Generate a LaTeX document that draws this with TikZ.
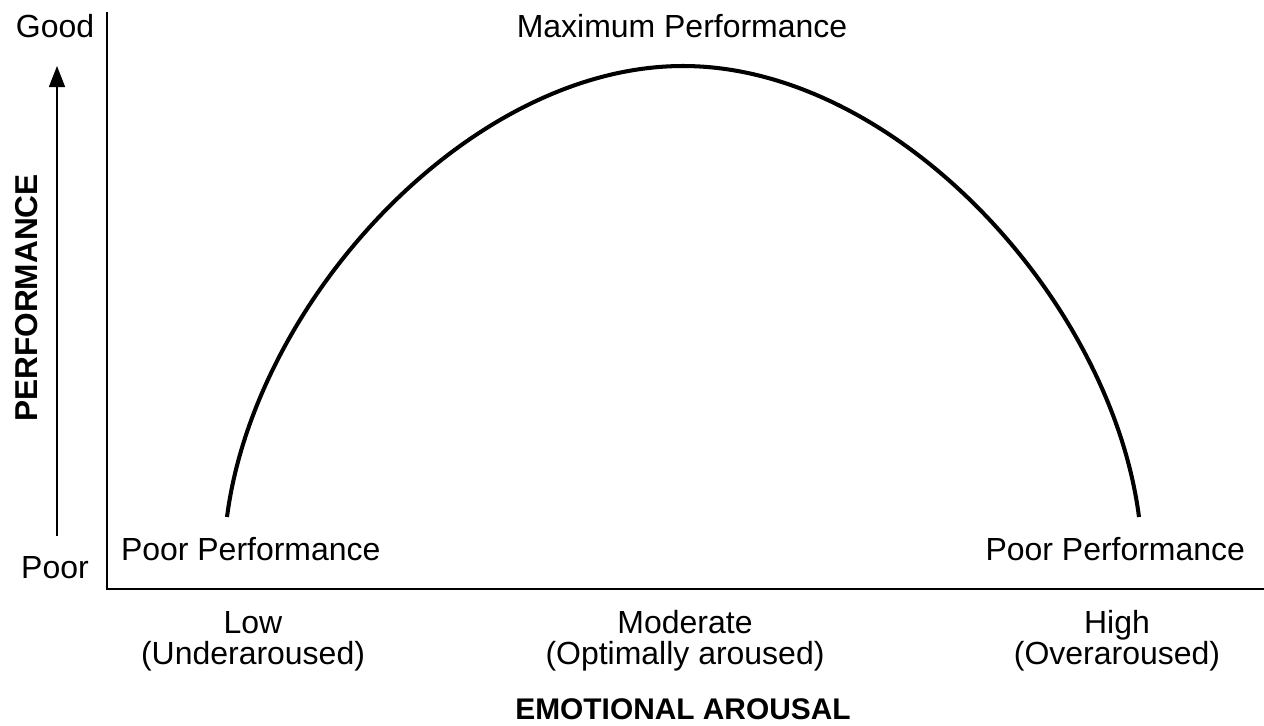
\documentclass[tikz,border=0pt]{standalone}
\usepackage{fontspec}
\setmainfont{Liberation Sans}
\usetikzlibrary{arrows.meta}

\begin{document}
\begin{tikzpicture}[x=0.02cm,y=-0.02cm,inner sep=0pt,outer sep=0pt,line width=0.9pt,
axislabel/.style={font=\fontsize{18.2}{18.2}\selectfont,anchor=base},
axistitle/.style={font=\fontsize{18}{18}\selectfont\bfseries,anchor=base}]
\useasboundingbox (0,0) rectangle (1264,725);

% axes
\coordinate (ytop) at (107,12);
\coordinate (origin) at (107,589);
\coordinate (xend) at (1264,589);
\draw (ytop) -- (origin) -- (xend);

\coordinate (afoot) at (57,536);
\coordinate (ahead) at (57,66);
\draw[-{Triangle[length=0.42cm,width=0.32cm]}] (afoot) -- (ahead);

% arousal curve
\coordinate (lowend) at (227,517);
\coordinate (peak) at (683,66);
\coordinate (highend) at (1139,517);
\draw[line width=2.3pt] (lowend) .. controls (255,300) and (470,66) .. (peak)
  .. controls (896,66) and (1111,300) .. (highend);

\draw (55,37) node[axislabel] (good) {Good};
\draw (55,578) node[axislabel] (poor) {Poor};
\draw (37,298) node[axistitle,rotate=90] (perf) {PERFORMANCE};

\draw (682,37) node[axislabel] (maxperf) {Maximum Performance};
\draw (121,560) node[axislabel,anchor=base west] (poorlow) {Poor Performance};
\draw (1245,560) node[axislabel,anchor=base east] (poorhigh) {Poor Performance};

\draw (253,633) node[axislabel] (low) {Low};
\draw (253,664) node[axislabel] (under) {(Underaroused)};
\draw (685,633) node[axislabel] (moderate) {Moderate};
\draw (685,664) node[axislabel] (optimal) {(Optimally aroused)};
\draw (1117,633) node[axislabel] (high) {High};
\draw (1117,664) node[axislabel] (over) {(Overaroused)};

\draw (683,719) node[axistitle,font=\fontsize{17}{17}\selectfont\bfseries] (arousal) {EMOTIONAL AROUSAL};
\end{tikzpicture}
\end{document}
